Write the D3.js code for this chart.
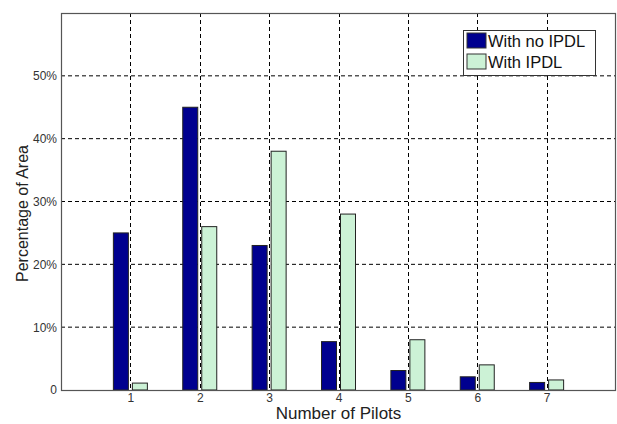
<!DOCTYPE html>
<html><head><meta charset="UTF-8"><style>
body { margin: 0; background: #fff; }
.grid line { stroke: #000; stroke-dasharray: 4,3; stroke-width: 1; }
.axis text { font-family: Arial, "Liberation Sans", sans-serif; font-size: 12px; }
</style>
</head>
<body>
<svg width="617" height="424"></svg>
<script src="https://cdn.jsdelivr.net/npm/d3@7"></script>
<script>

var pilots = [1, 2, 3, 4, 5, 6, 7];
var noIpdl = [25, 45, 23, 7.7, 3.1, 2.1, 1.2];
var withIpdl = [1.1, 26, 38, 28, 8, 4, 1.6];
var yTicks = [0, 10, 20, 30, 40, 50];
var seriesNames = ["With no IPDL", "With IPDL"];
var colors = ["#00008f", "#ccf2d6"];

var svg = d3.select("svg"),
    margin = {top: 13, right: 1, bottom: 34, left: 61},
    width = +svg.attr("width") - margin.left - margin.right,
    height = +svg.attr("height") - margin.top - margin.bottom,
    g = svg.append("g").attr("transform", "translate(" + margin.left + "," + margin.top + ")");

var x = d3.scaleLinear().domain([0, 8]).range([0, width]);
var y = d3.scaleLinear().domain([0, 60]).range([height, 0]);

// dashed grid
var grid = g.append("g").attr("class", "grid");
grid.selectAll("line.h")
    .data(yTicks.filter(function(d) { return d > 0; }))
    .enter().append("line")
      .attr("x1", 0).attr("x2", width)
      .attr("y1", function(d) { return y(d); })
      .attr("y2", function(d) { return y(d); });
grid.selectAll("line.v")
    .data(pilots)
    .enter().append("line")
      .attr("y1", 0).attr("y2", height)
      .attr("x1", function(d) { return Math.round(x(d)) + 0.5; })
      .attr("x2", function(d) { return Math.round(x(d)) + 0.5; });

// bars
var barW = 15, gap = 2;
var series = [noIpdl, withIpdl];
series.forEach(function(vals, s) {
  g.append("g").selectAll("rect")
    .data(vals)
    .enter().append("rect")
      .attr("x", function(d, i) {
          var c = x(pilots[i]);
          return s === 0 ? c - gap - barW : c + gap;
      })
      .attr("y", function(d) { return y(d); })
      .attr("width", barW)
      .attr("height", function(d) { return height - y(d); })
      .attr("fill", colors[s])
      .attr("stroke", "#222")
      .attr("stroke-width", 1);
});

// frame
g.append("rect")
    .attr("x", 0.5).attr("y", 0.5)
    .attr("width", width - 1).attr("height", height)
    .attr("fill", "none")
    .attr("stroke", "#555")
    .attr("stroke-width", 1.2);

// axes
g.append("g")
    .attr("class", "axis")
    .call(d3.axisLeft(y).tickValues(yTicks).tickSize(0).tickPadding(4)
      .tickFormat(function(d) { return d === 0 ? "0" : d + "%"; }))
    .call(function(a) { a.select(".domain").remove(); a.selectAll("text").attr("fill", "#333"); });

g.append("g")
    .attr("class", "axis")
    .attr("transform", "translate(0," + height + ")")
    .call(d3.axisBottom(x).tickValues(pilots).tickSize(0).tickPadding(3).tickFormat(d3.format("d")))
    .call(function(a) { a.select(".domain").remove(); a.selectAll("text").attr("fill", "#333"); });

// axis titles
svg.append("text")
    .attr("x", margin.left + x(4)).attr("y", 419)
    .attr("text-anchor", "middle")
    .attr("font-family", "Arial, 'Liberation Sans', sans-serif")
    .attr("font-size", 17).attr("fill", "#222")
    .text("Number of Pilots");

svg.append("text")
    .attr("transform", "translate(28," + (margin.top + height / 2 + 12) + ") rotate(-90)")
    .attr("text-anchor", "middle")
    .attr("font-family", "Arial, 'Liberation Sans', sans-serif")
    .attr("font-size", 16).attr("fill", "#222")
    .text("Percentage of Area");

// legend
var lg = svg.append("g").attr("transform", "translate(463,30)");
lg.append("rect")
    .attr("x", 0.5).attr("y", 0.5).attr("width", 132).attr("height", 45)
    .attr("fill", "#fff").attr("stroke", "#333").attr("stroke-width", 1);
var items = lg.selectAll("g.item")
    .data(seriesNames)
    .enter().append("g")
      .attr("transform", function(d, i) { return "translate(4," + (3 + i * 21) + ")"; });
items.append("rect")
    .attr("width", 19).attr("height", 15)
    .attr("fill", function(d, i) { return colors[i]; })
    .attr("stroke", "#333");
items.append("text")
    .attr("x", 21).attr("y", 14)
    .attr("font-family", "Arial, 'Liberation Sans', sans-serif")
    .attr("font-size", 16.5).attr("fill", "#111")
    .text(function(d) { return d; });

</script>
</body></html>
